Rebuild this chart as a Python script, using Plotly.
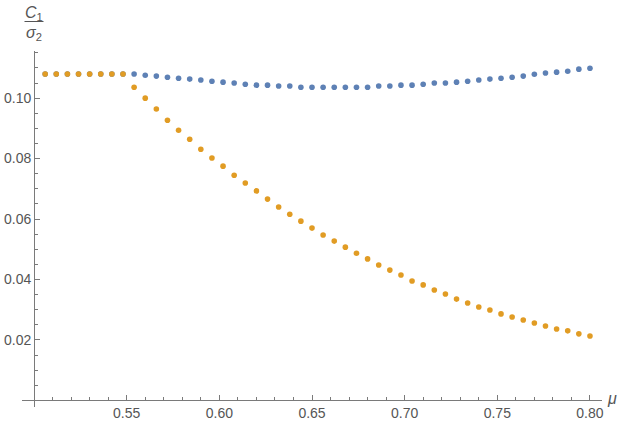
import plotly.graph_objects as go

mu = [round(0.506 + 0.006 * k, 3) for k in range(50)]

blue = [0.1080, 0.1080, 0.1080, 0.1080, 0.1080, 0.1080, 0.1080, 0.1080, 0.1080, 0.1076,
        0.1073, 0.1069, 0.1066, 0.1063, 0.1060, 0.1056, 0.1053, 0.1050, 0.1046, 0.1043,
        0.1043, 0.1040, 0.1040, 0.1036, 0.1036, 0.1036, 0.1036, 0.1036, 0.1036, 0.1036,
        0.1040, 0.1040, 0.1043, 0.1043, 0.1046, 0.1050, 0.1050, 0.1053, 0.1056, 0.1060,
        0.1063, 0.1066, 0.1069, 0.1073, 0.1079, 0.1083, 0.1086, 0.1089, 0.1096, 0.1099]

orange = [0.1080, 0.1080, 0.1080, 0.1080, 0.1080, 0.1080, 0.1080, 0.1080, 0.1036, 0.1000,
          0.0964, 0.0927, 0.0894, 0.0864, 0.0831, 0.0802, 0.0775, 0.0745, 0.0719, 0.0693,
          0.0666, 0.0640, 0.0616, 0.0593, 0.0570, 0.0547, 0.0527, 0.0507, 0.0487, 0.0468,
          0.0448, 0.0431, 0.0415, 0.0395, 0.0382, 0.0365, 0.0352, 0.0335, 0.0322, 0.0309,
          0.0299, 0.0286, 0.0276, 0.0266, 0.0256, 0.0246, 0.0236, 0.0230, 0.0220, 0.0213]

x_ticks = [0.55, 0.60, 0.65, 0.70, 0.75, 0.80]
x_labels = ["0.55", "0.60", "0.65", "0.70", "0.75", "0.80"]
y_ticks = [0.02, 0.04, 0.06, 0.08, 0.10]
y_labels = ["0.02", "0.04", "0.06", "0.08", "0.10"]

XR = [0.4935, 0.8065]
YR = [-0.0022, 0.1156]

AX = "#7a7a7a"
TXT = "#555555"
FONT = "Liberation Sans"

fig = go.Figure()
fig.add_trace(go.Scatter(x=mu, y=blue, mode="markers",
                         marker=dict(color="#5E81B5", size=5.6, line=dict(width=0))))
fig.add_trace(go.Scatter(x=mu, y=orange, mode="markers",
                         marker=dict(color="#E19C24", size=5.6, line=dict(width=0))))

xpos = (0.5 - XR[0]) / (XR[1] - XR[0])
ypos = (0 - YR[0]) / (YR[1] - YR[0])

ML, MR, MT, MB = 22, 18, 51, 16

fig.update_layout(
    width=620, height=423,
    margin=dict(l=ML, r=MR, t=MT, b=MB),
    paper_bgcolor="white", plot_bgcolor="white",
    showlegend=False,
    font=dict(family=FONT, color=TXT, size=14),
    xaxis=dict(range=XR, anchor="free", position=ypos, showgrid=False, zeroline=False,
               showline=True, linecolor=AX, linewidth=1,
               ticks="inside", ticklen=5, tickcolor=AX, tickwidth=1,
               tickvals=x_ticks, ticktext=x_labels,
               tickfont=dict(family=FONT, color=TXT, size=14),
               minor=dict(dtick=0.01, tick0=0.5, ticks="inside", ticklen=3, tickcolor=AX, showgrid=False),
               automargin=False),
    yaxis=dict(range=YR, anchor="free", position=xpos, showgrid=False, zeroline=False,
               showline=True, linecolor=AX, linewidth=1,
               ticks="inside", ticklen=5, tickcolor=AX, tickwidth=1,
               tickvals=y_ticks, ticktext=y_labels,
               tickfont=dict(family=FONT, color=TXT, size=14),
               minor=dict(dtick=0.005, tick0=0, ticks="inside", ticklen=3, tickcolor=AX, showgrid=False),
               automargin=False),
)

W = 620 - ML - MR
H = 423 - MT - MB


def px(x):
    return (x - ML) / W


def py(y):
    return (423 - MB - y) / H


fig.add_annotation(xref="paper", yref="paper", x=px(34), y=py(13), text="<i>C</i><sub>1</sub>",
                   showarrow=False, xanchor="center", yanchor="middle", borderpad=0,
                   font=dict(family=FONT, size=16, color=TXT))
fig.add_annotation(xref="paper", yref="paper", x=px(34), y=py(33), text="<i>σ</i><sub>2</sub>",
                   showarrow=False, xanchor="center", yanchor="middle", borderpad=0,
                   font=dict(family=FONT, size=16, color=TXT))
fig.add_shape(type="line", xref="paper", yref="paper", x0=px(24.5), x1=px(43.5), y0=py(21.5), y1=py(21.5),
              line=dict(color=TXT, width=1))
fig.add_annotation(xref="paper", yref="paper", x=px(612), y=py(398), text="<i>μ</i>",
                   showarrow=False, xanchor="center", yanchor="middle",
                   font=dict(family=FONT, size=16, color=TXT))

fig.write_html("out.html", config={"displayModeBar": False},
               post_script="document.body.style.margin='0';document.body.style.overflow='hidden';")
